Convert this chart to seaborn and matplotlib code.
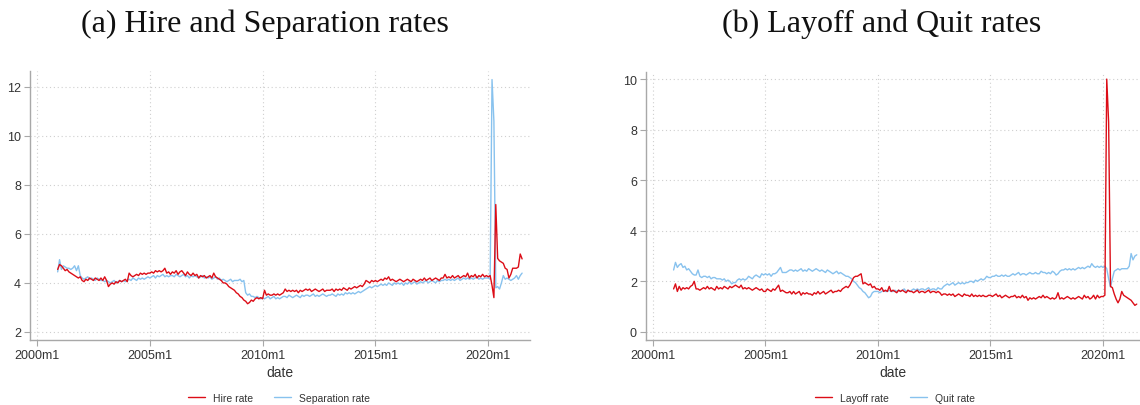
import numpy as np
import pandas as pd
import matplotlib
matplotlib.use("Agg")
import matplotlib.pyplot as plt
from matplotlib.lines import Line2D
import seaborn as sns

# ---------------- data (monthly, 2000m12 .. 2021m7) ----------------
start_month = "2000-12"

hire_rate = [
    4.55,
    4.75, 4.70, 4.60, 4.50, 4.55, 4.45, 4.40, 4.35, 4.30, 4.25, 4.20, 4.25,  # 2001
    4.10, 4.05, 4.15, 4.10, 4.20, 4.15, 4.10, 4.20, 4.15, 4.10, 4.20, 4.10,  # 2002
    4.25, 4.10, 3.85, 3.95, 4.00, 3.95, 4.05, 4.00, 4.10, 4.05, 4.10, 4.15,  # 2003
    4.05, 4.40, 4.30, 4.25, 4.30, 4.35, 4.30, 4.40, 4.35, 4.40, 4.35, 4.40,  # 2004
    4.40, 4.45, 4.40, 4.50, 4.45, 4.50, 4.45, 4.50, 4.60, 4.40, 4.45, 4.35,  # 2005
    4.45, 4.40, 4.50, 4.35, 4.45, 4.50, 4.40, 4.30, 4.45, 4.35, 4.30, 4.40,  # 2006
    4.30, 4.35, 4.20, 4.30, 4.25, 4.30, 4.20, 4.25, 4.30, 4.20, 4.40, 4.25,  # 2007
    4.20, 4.15, 4.10, 4.00, 4.00, 3.95, 3.85, 3.80, 3.75, 3.70, 3.60, 3.55,  # 2008
    3.45, 3.40, 3.30, 3.25, 3.15, 3.20, 3.30, 3.25, 3.35, 3.40, 3.35, 3.40,  # 2009
    3.35, 3.70, 3.50, 3.55, 3.50, 3.50, 3.55, 3.50, 3.55, 3.50, 3.55, 3.60,  # 2010
    3.75, 3.65, 3.70, 3.65, 3.70, 3.65, 3.70, 3.60, 3.70, 3.65, 3.70, 3.75,  # 2011
    3.70, 3.75, 3.65, 3.70, 3.75, 3.70, 3.65, 3.70, 3.75, 3.65, 3.70, 3.70,  # 2012
    3.70, 3.75, 3.65, 3.75, 3.70, 3.75, 3.70, 3.80, 3.75, 3.70, 3.80, 3.75,  # 2013
    3.80, 3.85, 3.80, 3.85, 3.90, 3.85, 3.95, 4.10, 4.05, 4.00, 4.10, 4.05,  # 2014
    4.10, 4.05, 4.10, 4.15, 4.10, 4.20, 4.15, 4.25, 4.10, 4.15, 4.10, 4.05,  # 2015
    4.10, 4.15, 4.10, 4.05, 4.10, 4.15, 4.10, 4.05, 4.15, 4.10, 4.05, 4.10,  # 2016
    4.15, 4.10, 4.20, 4.10, 4.15, 4.20, 4.10, 4.15, 4.20, 4.15, 4.10, 4.20,  # 2017
    4.20, 4.35, 4.20, 4.25, 4.20, 4.30, 4.20, 4.25, 4.30, 4.20, 4.25, 4.30,  # 2018
    4.25, 4.40, 4.20, 4.30, 4.25, 4.35, 4.20, 4.30, 4.25, 4.35, 4.25, 4.30,  # 2019
    4.25, 4.30, 3.90, 3.40, 7.20, 5.00, 4.90, 4.85, 4.80, 4.60, 4.55, 4.20,  # 2020
    4.35, 4.60, 4.60, 4.60, 4.65, 5.18, 4.98,                                # 2021
]

separation_rate = [
    4.45,
    4.95, 4.55, 4.70, 4.65, 4.60, 4.60, 4.55, 4.60, 4.70, 4.50, 4.70, 4.30,  # 2001
    4.20, 4.15, 4.20, 4.25, 4.15, 4.20, 4.15, 4.10, 4.20, 4.15, 4.10, 4.10,  # 2002
    4.05, 4.10, 4.05, 4.00, 4.05, 4.10, 4.00, 4.05, 4.10, 4.05, 4.10, 4.05,  # 2003
    4.10, 4.15, 4.10, 4.20, 4.15, 4.10, 4.20, 4.15, 4.20, 4.15, 4.20, 4.25,  # 2004
    4.20, 4.25, 4.30, 4.20, 4.30, 4.25, 4.30, 4.35, 4.25, 4.30, 4.25, 4.30,  # 2005
    4.30, 4.25, 4.35, 4.30, 4.25, 4.30, 4.35, 4.25, 4.30, 4.20, 4.30, 4.25,  # 2006
    4.30, 4.25, 4.20, 4.25, 4.30, 4.20, 4.25, 4.20, 4.25, 4.15, 4.20, 4.25,  # 2007
    4.15, 4.20, 4.10, 4.15, 4.10, 4.05, 4.10, 4.15, 4.05, 4.10, 4.10, 4.10,  # 2008
    4.15, 4.05, 4.10, 3.60, 3.50, 3.55, 3.45, 3.45, 3.40, 3.45, 3.40, 3.35,  # 2009
    3.40, 3.35, 3.40, 3.45, 3.35, 3.40, 3.45, 3.35, 3.40, 3.35, 3.40, 3.45,  # 2010
    3.45, 3.40, 3.50, 3.45, 3.40, 3.45, 3.50, 3.45, 3.40, 3.50, 3.45, 3.50,  # 2011
    3.50, 3.45, 3.50, 3.55, 3.45, 3.50, 3.45, 3.50, 3.55, 3.50, 3.45, 3.50,  # 2012
    3.50, 3.55, 3.50, 3.45, 3.55, 3.50, 3.55, 3.50, 3.60, 3.55, 3.60, 3.55,  # 2013
    3.60, 3.55, 3.60, 3.65, 3.60, 3.65, 3.70, 3.75, 3.80, 3.85, 3.80, 3.85,  # 2014
    3.90, 3.85, 3.90, 3.95, 3.90, 3.95, 3.90, 4.00, 3.95, 3.90, 4.00, 3.95,  # 2015
    4.00, 3.95, 4.00, 3.90, 4.00, 3.95, 4.05, 3.95, 4.00, 4.05, 3.95, 4.00,  # 2016
    4.05, 4.00, 4.05, 4.10, 4.00, 4.05, 4.10, 4.05, 4.00, 4.10, 4.05, 4.10,  # 2017
    4.10, 4.15, 4.10, 4.15, 4.10, 4.15, 4.10, 4.15, 4.20, 4.10, 4.15, 4.20,  # 2018
    4.15, 4.20, 4.15, 4.20, 4.15, 4.20, 4.25, 4.15, 4.20, 4.15, 4.20, 4.20,  # 2019
    4.20, 4.15, 12.30, 10.60, 3.80, 3.85, 3.75, 4.00, 4.30, 4.15, 4.20, 4.15,  # 2020
    4.10, 4.15, 4.20, 4.30, 4.15, 4.30, 4.40,                                # 2021
]

layoff_rate = [
    1.70,
    1.90, 1.60, 1.80, 1.65, 1.75, 1.70, 1.75, 1.70, 1.80, 1.85, 2.00, 1.70,  # 2001
    1.70, 1.65, 1.70, 1.75, 1.70, 1.80, 1.70, 1.75, 1.70, 1.65, 1.80, 1.70,  # 2002
    1.75, 1.70, 1.80, 1.75, 1.70, 1.80, 1.75, 1.80, 1.85, 1.80, 1.75, 1.85,  # 2003
    1.70, 1.75, 1.70, 1.75, 1.70, 1.65, 1.70, 1.75, 1.70, 1.65, 1.70, 1.60,  # 2004
    1.60, 1.70, 1.65, 1.60, 1.70, 1.65, 1.75, 1.85, 1.60, 1.65, 1.60, 1.55,  # 2005
    1.55, 1.60, 1.50, 1.60, 1.50, 1.55, 1.60, 1.45, 1.55, 1.50, 1.55, 1.50,  # 2006
    1.50, 1.45, 1.55, 1.50, 1.60, 1.50, 1.55, 1.60, 1.50, 1.55, 1.60, 1.65,  # 2007
    1.55, 1.60, 1.60, 1.65, 1.60, 1.70, 1.75, 1.80, 1.75, 1.85, 2.00, 2.15,  # 2008
    2.20, 2.20, 2.25, 2.30, 1.90, 1.95, 1.90, 1.85, 1.90, 1.75, 1.80, 1.70,  # 2009
    1.70, 1.65, 1.75, 1.60, 1.65, 1.60, 1.80, 1.60, 1.65, 1.60, 1.55, 1.65,  # 2010
    1.60, 1.65, 1.60, 1.55, 1.65, 1.60, 1.60, 1.55, 1.60, 1.65, 1.55, 1.60,  # 2011
    1.60, 1.55, 1.60, 1.65, 1.55, 1.60, 1.60, 1.55, 1.60, 1.55, 1.45, 1.50,  # 2012
    1.50, 1.45, 1.50, 1.45, 1.50, 1.40, 1.45, 1.50, 1.45, 1.40, 1.50, 1.45,  # 2013
    1.45, 1.40, 1.50, 1.40, 1.45, 1.40, 1.45, 1.40, 1.45, 1.40, 1.40, 1.45,  # 2014
    1.45, 1.40, 1.45, 1.50, 1.40, 1.45, 1.35, 1.40, 1.45, 1.40, 1.35, 1.40,  # 2015
    1.40, 1.45, 1.35, 1.40, 1.35, 1.45, 1.35, 1.40, 1.25, 1.35, 1.30, 1.35,  # 2016
    1.30, 1.35, 1.40, 1.35, 1.45, 1.35, 1.40, 1.35, 1.30, 1.35, 1.30, 1.35,  # 2017
    1.55, 1.30, 1.35, 1.30, 1.35, 1.40, 1.35, 1.30, 1.35, 1.30, 1.35, 1.40,  # 2018
    1.35, 1.30, 1.45, 1.35, 1.40, 1.30, 1.35, 1.45, 1.30, 1.45, 1.35, 1.40,  # 2019
    1.40, 1.45, 10.00, 8.30, 1.80, 1.75, 1.50, 1.30, 1.15, 1.30, 1.60, 1.45,  # 2020
    1.40, 1.35, 1.30, 1.25, 1.15, 1.05, 1.10,                                # 2021
]

quit_rate = [
    2.45,
    2.75, 2.55, 2.65, 2.70, 2.55, 2.60, 2.45, 2.50, 2.40, 2.30, 2.25, 2.25,  # 2001
    2.45, 2.20, 2.15, 2.20, 2.20, 2.15, 2.20, 2.10, 2.15, 2.15, 2.10, 2.10,  # 2002
    2.10, 2.05, 2.10, 2.00, 2.05, 2.00, 1.90, 1.95, 1.95, 2.05, 2.10, 2.05,  # 2003
    2.10, 2.05, 2.10, 2.20, 2.15, 2.10, 2.20, 2.25, 2.20, 2.15, 2.30, 2.25,  # 2004
    2.30, 2.25, 2.30, 2.20, 2.30, 2.30, 2.35, 2.45, 2.55, 2.35, 2.35, 2.35,  # 2005
    2.40, 2.45, 2.45, 2.40, 2.45, 2.40, 2.45, 2.50, 2.40, 2.45, 2.40, 2.50,  # 2006
    2.45, 2.40, 2.45, 2.50, 2.45, 2.40, 2.45, 2.40, 2.35, 2.45, 2.40, 2.35,  # 2007
    2.30, 2.35, 2.40, 2.30, 2.35, 2.30, 2.25, 2.20, 2.20, 2.15, 2.10, 2.00,  # 2008
    1.95, 1.85, 1.75, 1.70, 1.60, 1.55, 1.45, 1.35, 1.40, 1.55, 1.60, 1.60,  # 2009
    1.60, 1.55, 1.60, 1.65, 1.60, 1.60, 1.65, 1.60, 1.60, 1.65, 1.60, 1.65,  # 2010
    1.60, 1.65, 1.70, 1.60, 1.65, 1.60, 1.65, 1.70, 1.65, 1.70, 1.65, 1.70,  # 2011
    1.70, 1.65, 1.70, 1.75, 1.65, 1.70, 1.70, 1.65, 1.75, 1.70, 1.70, 1.80,  # 2012
    1.85, 1.90, 1.85, 1.90, 1.95, 1.85, 1.90, 1.95, 1.90, 1.95, 1.90, 1.95,  # 2013
    1.95, 2.00, 2.00, 1.95, 2.05, 2.00, 2.05, 2.10, 2.05, 2.10, 2.20, 2.15,  # 2014
    2.15, 2.20, 2.20, 2.25, 2.20, 2.20, 2.25, 2.20, 2.25, 2.20, 2.20, 2.25,  # 2015
    2.30, 2.25, 2.30, 2.35, 2.25, 2.30, 2.30, 2.25, 2.30, 2.35, 2.30, 2.30,  # 2016
    2.35, 2.30, 2.30, 2.40, 2.35, 2.35, 2.30, 2.35, 2.30, 2.40, 2.35, 2.25,  # 2017
    2.30, 2.40, 2.45, 2.45, 2.50, 2.45, 2.50, 2.45, 2.50, 2.45, 2.50, 2.55,  # 2018
    2.50, 2.55, 2.50, 2.55, 2.60, 2.55, 2.70, 2.60, 2.55, 2.60, 2.55, 2.60,  # 2019
    2.55, 2.60, 2.50, 2.10, 1.78, 2.10, 2.40, 2.45, 2.50, 2.45, 2.50, 2.50,  # 2020
    2.50, 2.50, 2.60, 3.10, 2.85, 3.00, 3.05,                                # 2021
]

x_tick_years = [2000, 2005, 2010, 2015, 2020]
x_tick_labels = ["2000m1", "2005m1", "2010m1", "2015m1", "2020m1"]
left_yticks = [2, 4, 6, 8, 10, 12]
right_yticks = [0, 2, 4, 6, 8, 10]
panel_titles = ["(a) Hire and Separation rates", "(b) Layoff and Quit rates"]
left_labels = ["Hire rate", "Separation rate"]
right_labels = ["Layoff rate", "Quit rate"]

RED = "#dc0d17"
BLUE = "#88c2ee"

# ---------------- styling ----------------
sns.set_style("white")
plt.rcParams["font.family"] = ["Liberation Sans", "DejaVu Sans"]

periods = pd.period_range(start_month, periods=len(hire_rate), freq="M")
t = np.asarray(periods.year + (periods.month - 1) / 12.0, dtype=float)


def long_df(a, b, la, lb):
    return pd.concat([
        pd.DataFrame({"date": t, "value": a, "series": la}),
        pd.DataFrame({"date": t, "value": b, "series": lb}),
    ], ignore_index=True)


W, H = 1140, 406
fig = plt.figure(figsize=(W / 100, H / 100), dpi=100)


def fx(px):
    return px / W


def fy(py):
    return 1 - py / H


ax1 = fig.add_axes([fx(30), fy(341), fx(530) - fx(30), fy(72) - fy(341)])
ax2 = fig.add_axes([fx(646), fy(341), fx(1139) - fx(646), fy(73) - fy(341)])

panels = [
    (ax1, hire_rate, separation_rate, left_labels, left_yticks, (1.67, 12.65), (1999.69, 2021.85), 279),
    (ax2, layoff_rate, quit_rate, right_labels, right_yticks, (-0.32, 10.28), (1999.69, 2021.6), 895),
]

for ax, a, b, labs, yt, ylim, xlim, legx in panels:
    df = long_df(a, b, labs[0], labs[1])
    sns.lineplot(data=df, x="date", y="value", hue="series",
                 hue_order=[labs[1], labs[0]],
                 palette={labs[0]: RED, labs[1]: BLUE},
                 estimator=None, linewidth=1.0, legend=False, ax=ax)
    ax.set_xlim(*xlim)
    ax.set_ylim(*ylim)
    ax.set_xticks(x_tick_years)
    ax.set_xticklabels(x_tick_labels)
    ax.set_yticks(yt)
    ax.set_yticklabels([str(v) for v in yt])
    ax.grid(True, which="major", axis="both", color="#cfcfcf",
            linestyle=(0, (1, 2.5)), linewidth=0.8)
    for s in ["top", "right"]:
        ax.spines[s].set_visible(False)
    for s in ["left", "bottom"]:
        ax.spines[s].set_color("#a8a8a8")
        ax.spines[s].set_linewidth(1.0)
    ax.tick_params(axis="both", which="major", direction="out", length=4,
                   width=0.8, color="#a8a8a8", labelsize=9,
                   labelcolor="#333333", pad=2.5, bottom=True, left=True)
    ax.set_xlabel("date", fontsize=10, color="#333333", labelpad=3)
    ax.set_ylabel("")
    handles = [Line2D([], [], color=RED, lw=1.0), Line2D([], [], color=BLUE, lw=1.0)]
    fig.legend(handles, labs, loc="center", bbox_to_anchor=(fx(legx), fy(399)),
               ncol=2, frameon=False, fontsize=7.5, handlelength=1.6,
               handletextpad=0.8, columnspacing=2.0, labelcolor="#333333")

fig.text(fx(265), fy(24), panel_titles[0], ha="center", va="center",
         fontsize=23, family=["Liberation Serif", "DejaVu Serif"], color="#111111")
fig.text(fx(882), fy(24), panel_titles[1], ha="center", va="center",
         fontsize=23, family=["Liberation Serif", "DejaVu Serif"], color="#111111")

fig.savefig("out.png", dpi=100)
